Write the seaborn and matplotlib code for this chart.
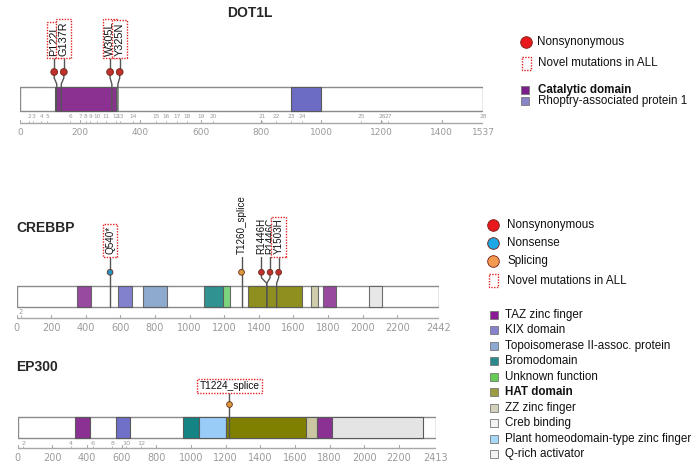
import numpy as np
import pandas as pd
import matplotlib
matplotlib.use("Agg")
import matplotlib.pyplot as plt
import seaborn as sns
from matplotlib.patches import Rectangle

# ---------------- data ----------------
dot1l_len = 1537
dot1l_dom_names = ["Catalytic domain", "Rhoptry-associated protein 1"]
dot1l_dom_start = [115, 898]
dot1l_dom_end = [318, 999]
dot1l_mut_labels = ["P122L", "G137R", "W305L", "Y325N"]
dot1l_mut_pos = [122, 137, 305, 325]
dot1l_mut_type = ["Nonsynonymous"] * 4
dot1l_mut_novel = [True, True, True, True]
dot1l_ticks = [0, 200, 400, 600, 800, 1000, 1200, 1400, 1537]
dot1l_exon_labels = [str(i) for i in range(2, 29)]
dot1l_exon_pos = [30, 43, 70, 90, 166, 199, 219, 233, 256, 286, 319, 332, 375,
                  452, 485, 522, 555, 601, 641, 804, 850, 900, 937, 1133, 1203, 1223, 1537]

crebbp_len = 2442
crebbp_dom_names = ["TAZ zinc finger", "KIX domain", "Topoisomerase II-assoc. protein",
                    "Bromodomain", "Unknown function", "HAT domain", "ZZ zinc finger",
                    "TAZ zinc finger", "Creb binding"]
crebbp_dom_start = [351, 588, 733, 1084, 1192, 1340, 1702, 1770, 2038]
crebbp_dom_end = [432, 667, 872, 1192, 1232, 1649, 1745, 1845, 2111]
crebbp_mut_labels = ["Q540*", "T1260_splice", "R1446H", "R1446C", "Y1503H"]
crebbp_mut_pos = [540, 1300, 1446, 1446, 1503]
crebbp_mut_type = ["Nonsense", "Splicing", "Nonsynonymous", "Nonsynonymous", "Nonsynonymous"]
crebbp_mut_novel = [True, False, False, False, True]
crebbp_ticks = [0, 200, 400, 600, 800, 1000, 1200, 1400, 1600, 1800, 2000, 2200, 2442]
crebbp_exon_labels = ["2"]
crebbp_exon_pos = [24]

ep300_len = 2413
ep300_dom_names = ["TAZ zinc finger", "KIX domain", "Bromodomain",
                   "Plant homeodomain-type zinc finger", "HAT domain", "ZZ zinc finger",
                   "TAZ zinc finger", "Q-rich activator"]
ep300_dom_start = [333, 568, 953, 1045, 1203, 1665, 1726, 1813]
ep300_dom_end = [419, 647, 1045, 1203, 1665, 1726, 1813, 2342]
ep300_mut_labels = ["T1224_splice"]
ep300_mut_pos = [1222]
ep300_mut_type = ["Splicing"]
ep300_mut_novel = [True]
ep300_ticks = [0, 200, 400, 600, 800, 1000, 1200, 1400, 1600, 1800, 2000, 2200, 2413]
ep300_exon_labels = ["2", "4", "6", "8", "10", "12"]
ep300_exon_pos = [33, 306, 435, 546, 627, 714]

legend_domains = ["TAZ zinc finger", "KIX domain", "Topoisomerase II-assoc. protein",
                  "Bromodomain", "Unknown function", "HAT domain", "ZZ zinc finger",
                  "Creb binding", "Plant homeodomain-type zinc finger", "Q-rich activator"]

# ---------------- styles ----------------
dom_colors = {
    "Catalytic domain": "#8a3192",
    "Rhoptry-associated protein 1": "#6c6cc4",
    "TAZ zinc finger": "#8a3193",
    "KIX domain": "#7070c8",
    "Topoisomerase II-assoc. protein": "#7f9ec8",
    "Bromodomain": "#148383",
    "Unknown function": "#6cce6c",
    "HAT domain": "#808000",
    "ZZ zinc finger": "#cac7a2",
    "Creb binding": "#e4e4e4",
    "Plant homeodomain-type zinc finger": "#99ccf7",
    "Q-rich activator": "#e4e4e4",
}
leg_colors = {
    "TAZ zinc finger": "#8a1a96", "KIX domain": "#8482cc",
    "Topoisomerase II-assoc. protein": "#8eaad2", "Bromodomain": "#2a8a8a",
    "Unknown function": "#66cc55", "HAT domain": "#9c9c42", "ZZ zinc finger": "#d3d1bc",
    "Creb binding": "#f2f2f2", "Plant homeodomain-type zinc finger": "#a8d8f8",
    "Q-rich activator": "#f2f2f2",
}
head_colors = {"Nonsynonymous": "#c0312e", "Nonsense": "#2496c4", "Splicing": "#d89a3c"}
leg_head_colors = {"Nonsynonymous": "#e8191c", "Nonsense": "#1ca8e4", "Splicing": "#f29a52"}
novel_ec = "#e02424"

sns.set_theme(style="white")
plt.rcParams["font.family"] = ["Liberation Sans", "DejaVu Sans"]

W, H = 700, 469
fig = plt.figure(figsize=(7, 4.69), dpi=100)
ov = fig.add_axes([0, 0, 1, 1])
ov.set_xlim(0, W)
ov.set_ylim(H, 0)
ov.axis("off")


def spread(pos, gap):
    order = np.argsort(pos, kind="stable")
    p = [pos[i] for i in order]
    groups = [[v] for v in p]
    changed = True
    while changed:
        changed = False
        out = []
        for g in groups:
            if out:
                prev = out[-1]
                cp = np.mean(prev)
                cg = np.mean(g)
                last = cp + (len(prev) - 1) / 2 * gap
                first = cg - (len(g) - 1) / 2 * gap
                if first - last < gap - 1e-9:
                    out[-1] = prev + g
                    changed = True
                    continue
            out.append(g)
        groups = out
    disp = []
    for g in groups:
        c = np.mean(g)
        n = len(g)
        disp += [c + (i - (n - 1) / 2) * gap for i in range(n)]
    res = [0] * len(pos)
    for k, i in enumerate(order):
        res[i] = disp[k]
    return res


def draw_protein(cfg):
    x0, x1, L = cfg["x0"], cfg["x1"], cfg["length"]
    ax = fig.add_axes([x0 / W, 0, (x1 - x0) / W, 1])
    ax.set_xlim(0, L)
    ax.set_ylim(H, 0)
    ax.axis("off")
    bt, bb = cfg["bar_top"], cfg["bar_bot"]
    ax.add_patch(Rectangle((0, bt), L, bb - bt, fc="white", ec="#8a8a8a", lw=1.0, zorder=1))
    for n, s, e in zip(cfg["dom_names"], cfg["dom_start"], cfg["dom_end"]):
        ax.add_patch(Rectangle((s, bt), e - s, bb - bt, fc=dom_colors[n], ec="#5a5a5a",
                               lw=0.8, alpha=cfg["alpha"], zorder=2))
    # axis
    ay = cfg["axis_y"]
    ax.plot([0, L], [ay, ay], color="#a8a8a8", lw=1.0, zorder=1)
    for t in cfg["ticks"]:
        ax.plot([t, t], [ay, ay - 3], color="#a8a8a8", lw=0.8)
        ax.text(t, cfg["tick_label_y"], str(t), ha="center", va="center",
                fontsize=cfg["tick_fs"], color="#9a9a9a", family="DejaVu Sans")
    for lab, p in zip(cfg["exon_labels"], cfg["exon_pos"]):
        ax.plot([p, p], [ay, ay - 2.5], color="#b0b0b0", lw=0.6)
        ax.text(p, cfg["exon_y"], lab, ha="center", va="center", fontsize=cfg["exon_fs"],
                color="#9a9a9a", family="DejaVu Sans")
    # mutations
    scale = (x1 - x0) / L
    disp = spread(cfg["mut_pos"], cfg["gap_px"] / scale)
    hy = cfg["head_y"]
    d = bt - hy
    for p, dx in zip(cfg["mut_pos"], disp):
        ax.plot([dx, dx, p, p], [hy, hy + 0.4 * d, hy + 0.8 * d, bb],
                color="#555555", lw=1.0, zorder=3)
        ax.plot([dx, dx], [hy, cfg["stick_top"]], color="#555555", lw=1.0, zorder=3)
    df = pd.DataFrame({"x": disp, "y": [hy] * len(disp), "type": cfg["mut_type"]})
    sns.scatterplot(data=df, x="x", y="y", hue="type", palette=head_colors,
                    s=cfg["head_s"], edgecolor="#6a2a1a", linewidth=0.6,
                    legend=False, ax=ax, zorder=5)
    ax.set_xlim(0, L)
    ax.set_ylim(H, 0)
    ax.axis("off")
    for lab, dx, nov in zip(cfg["mut_labels"], disp, cfg["mut_novel"]):
        bbox = None
        if nov:
            bbox = dict(boxstyle="square,pad=0.22", fc="white", ec=novel_ec, lw=1.0,
                        ls=(0, (1, 1)))
        if cfg["horizontal"]:
            ax.text(dx, cfg["label_y"], lab, ha="center", va="center",
                    fontsize=cfg["label_fs"], color="#111111", bbox=bbox, zorder=6)
        else:
            ax.text(dx, cfg["label_y"], lab, ha="center", va="bottom", rotation=90,
                    fontsize=cfg["label_fs"], color="#111111", bbox=bbox, zorder=6)
    return ax


draw_protein(dict(x0=20, x1=483, length=dot1l_len, bar_top=87, bar_bot=111, alpha=1.0,
                  dom_names=dot1l_dom_names, dom_start=dot1l_dom_start, dom_end=dot1l_dom_end,
                  axis_y=123.3, ticks=dot1l_ticks, tick_label_y=132.7, tick_fs=6.5,
                  exon_labels=dot1l_exon_labels, exon_pos=dot1l_exon_pos, exon_y=116.3, exon_fs=4.2,
                  mut_pos=dot1l_mut_pos, mut_type=dot1l_mut_type, mut_labels=dot1l_mut_labels,
                  mut_novel=dot1l_mut_novel, gap_px=9.6, head_y=72, stick_top=58, head_s=24,
                  label_y=56, label_fs=7.8, horizontal=False))

draw_protein(dict(x0=16.7, x1=439, length=crebbp_len, bar_top=286, bar_bot=307.5, alpha=0.88,
                  dom_names=crebbp_dom_names, dom_start=crebbp_dom_start, dom_end=crebbp_dom_end,
                  axis_y=318, ticks=crebbp_ticks, tick_label_y=328, tick_fs=7,
                  exon_labels=crebbp_exon_labels, exon_pos=crebbp_exon_pos, exon_y=311.5, exon_fs=4.8,
                  mut_pos=crebbp_mut_pos, mut_type=crebbp_mut_type, mut_labels=crebbp_mut_labels,
                  mut_novel=crebbp_mut_novel, gap_px=8.6, head_y=272.3, stick_top=257, head_s=17,
                  label_y=254.5, label_fs=7.1, horizontal=False))

draw_protein(dict(x0=17.7, x1=435.7, length=ep300_len, bar_top=417.3, bar_bot=438.3, alpha=1.0,
                  dom_names=ep300_dom_names, dom_start=ep300_dom_start, dom_end=ep300_dom_end,
                  axis_y=448.3, ticks=ep300_ticks, tick_label_y=458, tick_fs=7,
                  exon_labels=ep300_exon_labels, exon_pos=ep300_exon_pos, exon_y=443.3, exon_fs=4.6,
                  mut_pos=ep300_mut_pos, mut_type=ep300_mut_type, mut_labels=ep300_mut_labels,
                  mut_novel=ep300_mut_novel, gap_px=8.6, head_y=404, stick_top=393, head_s=17,
                  label_y=386, label_fs=7.3, horizontal=True))

# ---------------- titles ----------------
ov.text(249.5, 13.3, "DOT1L", ha="center", va="center", fontsize=10, fontweight="bold")
ov.text(16, 228.3, "CREBBP", ha="left", va="center", fontsize=10, fontweight="bold")
ov.text(16, 366.7, "EP300", ha="left", va="center", fontsize=10, fontweight="bold")

# ---------------- legends ----------------
leg_fs = 8.4


def circle_legend(x, y, kind, tx):
    ov.scatter([x], [y], s=70, c=leg_head_colors[kind], edgecolors="#7a1a10",
               linewidths=0.6, zorder=5)
    ov.text(tx, y, kind, ha="left", va="center", fontsize=leg_fs, color="#111111")


def novel_legend(x, y, tx):
    ov.add_patch(Rectangle((x - 4.5, y - 6.5), 9, 13, fc="white", ec=novel_ec, lw=1.0,
                           ls=(0, (1, 1))))
    ov.text(tx, y, "Novel mutations in ALL", ha="left", va="center", fontsize=leg_fs,
            color="#111111")


def square_legend(x, y, name, color, tx, bold=False):
    ov.add_patch(Rectangle((x - 4, y - 4), 8, 8, fc=color, ec="#777777", lw=0.6))
    ov.text(tx, y, name, ha="left", va="center", fontsize=leg_fs, color="#111111",
            fontweight="bold" if bold else "normal")


# DOT1L legend
circle_legend(526, 42.3, "Nonsynonymous", 537.5)
novel_legend(526, 63.3, 537.5)
square_legend(524.5, 90, "Catalytic domain", "#7b1f8a", 537.5, bold=True)
square_legend(524.5, 101, "Rhoptry-associated protein 1", "#8884c8", 537.5)

# CREBBP / EP300 legend
circle_legend(493.3, 225, "Nonsynonymous", 507.3)
circle_legend(493.3, 242.7, "Nonsense", 507.3)
circle_legend(493.3, 261, "Splicing", 507.3)
novel_legend(493.3, 280.7, 507.3)
for i, name in enumerate(legend_domains):
    square_legend(493.7, 315 + 15.44 * i, name, leg_colors[name], 505,
                  bold=(name == "HAT domain"))

fig.savefig("out.png", dpi=100)
